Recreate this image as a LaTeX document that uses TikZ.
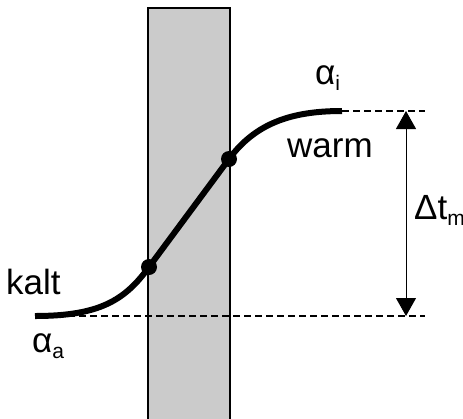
\documentclass[tikz,border=0pt]{standalone}
\usepackage{fontspec}
\setmainfont{Liberation Sans}
\usetikzlibrary{arrows.meta}
\definecolor{wallgray}{HTML}{CBCBCB}
\newcommand{\lowsub}[1]{\raisebox{-6pt}{\fontsize{21}{21}\selectfont #1}}

\begin{document}
\begin{tikzpicture}[x=1pt,y=-1pt,>=Latex,font=\fontsize{35}{40}\selectfont,
  txtlabel/.style={inner sep=0pt,anchor=base west},
  refline/.style={line width=1.4pt,dash pattern=on 7pt off 4pt},
  profile/.style={line width=6pt},
  dimarrow/.style={line width=1pt,{Triangle[length=18pt,width=20pt]}-{Triangle[length=18pt,width=20pt]}}]
\useasboundingbox (0,0) rectangle (463,418);
\clip (0,0) rectangle (463,418);
% wall
\filldraw[fill=wallgray,draw=black,line width=1.3pt] (148,8) rectangle (230,430);
% points of the profile
\coordinate (kaltend) at (35,316);
\coordinate (wallout) at (149,267);
\coordinate (wallin) at (229,159);
\coordinate (warmend) at (342,111);
\coordinate (topdash) at (425,111);
\coordinate (botdash) at (425,316);
\coordinate (dtop) at (406,111);
\coordinate (dbot) at (406,316);
% reference lines
\draw[refline] (warmend)--(topdash);
\draw[refline] (kaltend)--(botdash);
% temperature profile
\draw[profile] (kaltend) .. controls (100,316) and (125,300) .. (wallout)
  -- (wallin) .. controls (255,124) and (290,111) .. (warmend);
\fill (wallout) circle (8pt);
\fill (wallin) circle (8pt);
% temperature difference
\draw[dimarrow] (dtop)--(dbot);
% labels
\node[txtlabel] (alphai) at (315,84) {α\lowsub{i}};
\node[txtlabel] (warm) at (287,157) {warm};
\node[txtlabel] (kalt) at (6,294) {kalt};
\node[txtlabel] (alphaa) at (32,352) {α\lowsub{a}};
\node[txtlabel] (dtm) at (414,219) {Δt\lowsub{m}};
\end{tikzpicture}
\end{document}
